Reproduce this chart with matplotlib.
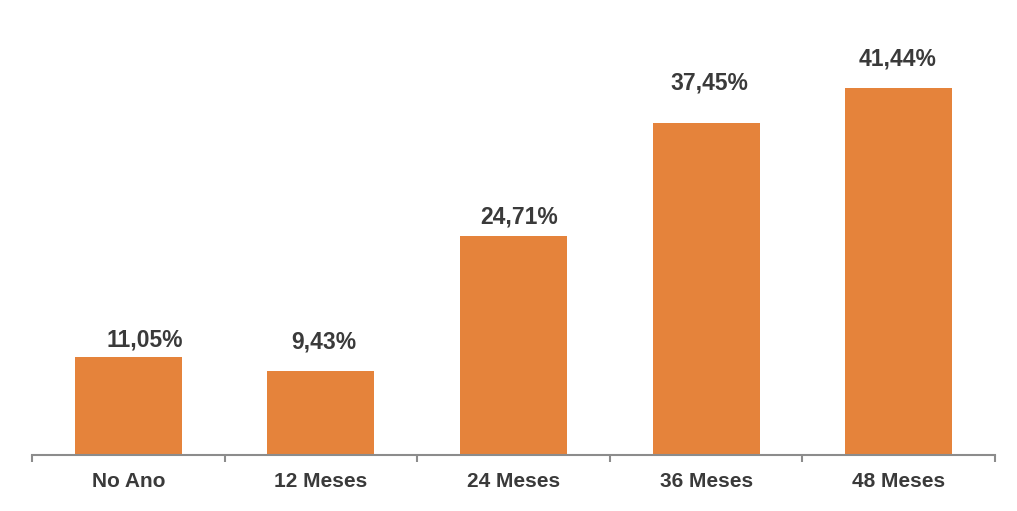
import matplotlib
matplotlib.use("Agg")
import matplotlib.pyplot as plt

categories = ["No Ano", "12 Meses", "24 Meses", "36 Meses", "48 Meses"]
values = [11.05, 9.43, 24.71, 37.45, 41.44]
value_labels = ["11,05%", "9,43%", "24,71%", "37,45%", "41,44%"]

# label offsets (pixels) relative to bar top/center
label_dx = [16, 3, 6, 3, -1]
label_dy = [11, 23, 12, 33, 22]

plt.rcParams['font.family'] = ['Liberation Sans', 'DejaVu Sans']

fig = plt.figure(figsize=(10.17, 5.11), dpi=100)
ax = fig.add_axes([32/1017, 56/511, (995-32)/1017, (455-56)/511])

bar_color = "#E5833B"
text_color = "#3A3A3A"
axis_color = "#8C8C8C"

x = list(range(len(categories)))
bars = ax.bar(x, values, width=0.555, color=bar_color)

for xi, v, lab, dx, dy in zip(x, values, value_labels, label_dx, label_dy):
    ax.annotate(lab, (xi, v), xytext=(dx, dy), textcoords='offset pixels',
                ha='center', va='baseline', fontsize=16.5, fontweight='bold',
                color=text_color)

ax.set_xlim(-0.5, len(categories) - 0.5)
ax.set_ylim(0, 45)

for s in ['top', 'right', 'left']:
    ax.spines[s].set_visible(False)
ax.spines['bottom'].set_color(axis_color)
ax.spines['bottom'].set_linewidth(1.5)

ax.set_yticks([])
ax.set_xticks([i - 0.5 for i in range(len(categories) + 1)], minor=False)
ax.set_xticklabels([])
ax.tick_params(axis='x', which='major', length=5, width=1.5, color=axis_color)
ax.set_xticks(x, minor=True)
ax.set_xticklabels(categories, minor=True)
ax.tick_params(axis='x', which='minor', length=0, pad=12, labelsize=15,
               labelcolor=text_color)
for t in ax.get_xticklabels(minor=True):
    t.set_fontweight('bold')

fig.savefig("out.png", dpi=100)
